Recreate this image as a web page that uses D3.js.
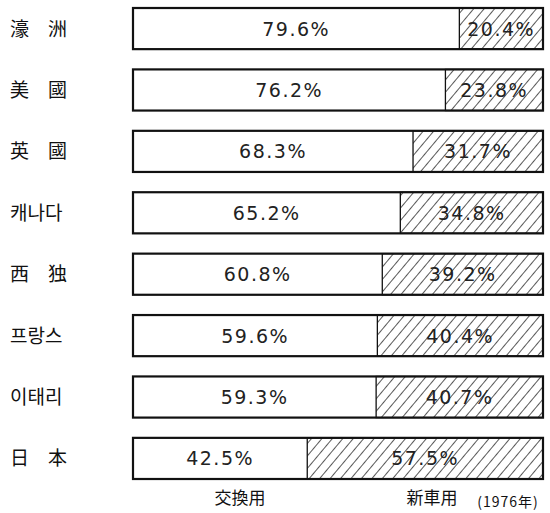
<!DOCTYPE html>
<html>
<head>
<meta charset="utf-8">
<script src="https://cdn.jsdelivr.net/npm/d3@7"></script>
<style>
body { margin: 0; background: #fff; }
</style>
</head>
<body>
<div class="chart"></div>
<script>
// Data
const countries = ['濠　洲', '美　國', '英　國', '캐나다', '西　独', '프랑스', '이태리', '日　本'];
const replaceShare = [79.6, 76.2, 68.3, 65.2, 60.8, 59.6, 59.3, 42.5];
const newCarShare = [20.4, 23.8, 31.7, 34.8, 39.2, 40.4, 40.7, 57.5];
const legendLabels = ['交換用', '新車用'];
const yearNote = '(1976年)';

const width = 550, height = 513;
const margin = { top: 8, right: 7, bottom: 34, left: 133 };
const cjkFont = '"Noto Sans CJK KR", "Noto Sans CJK JP", sans-serif';
const numFont = '"DejaVu Sans", sans-serif';

const svg = d3.select('.chart')
    .append('svg')
    .attr('width', width)
    .attr('height', height);

const defs = svg.append('defs');
const pat = defs.append('pattern')
    .attr('id', 'hatch')
    .attr('patternUnits', 'userSpaceOnUse')
    .attr('width', 8)
    .attr('height', 8)
    .attr('patternTransform', 'rotate(40)');
pat.append('line')
    .attr('x1', 0).attr('y1', 0)
    .attr('x2', 0).attr('y2', 8)
    .attr('stroke', '#111')
    .attr('stroke-width', 1.4);

// x scale: percent -> pixels
const x = d3.scaleLinear()
    .domain([0, 100])
    .range([margin.left, width - margin.right]);

// y channel
const y = d3.scaleBand()
    .domain(countries)
    .range([margin.top, height - margin.bottom])
    .paddingInner(0.33)
    .paddingOuter(0);

const rows = svg.selectAll('.row')
    .data(countries)
    .enter()
    .append('g')
    .attr('class', 'row');

// white (replacement) part
rows.append('rect')
    .attr('x', x(0))
    .attr('y', d => y(d))
    .attr('width', (d, i) => x(replaceShare[i]) - x(0))
    .attr('height', y.bandwidth())
    .attr('fill', '#fff');

// hatched (new car) part
rows.append('rect')
    .attr('x', (d, i) => x(replaceShare[i]))
    .attr('y', d => y(d))
    .attr('width', (d, i) => x(replaceShare[i] + newCarShare[i]) - x(replaceShare[i]))
    .attr('height', y.bandwidth())
    .attr('fill', 'url(#hatch)')
    .attr('stroke', '#111')
    .attr('stroke-width', 1.3);

// outline of the whole bar
rows.append('rect')
    .attr('x', x(0))
    .attr('y', d => y(d))
    .attr('width', x(100) - x(0))
    .attr('height', y.bandwidth())
    .attr('fill', 'none')
    .attr('stroke', '#111')
    .attr('stroke-width', 2.2);

// percent labels
function pctLabel(sel, xFn, vals) {
    sel.append('text')
        .attr('x', xFn)
        .attr('y', d => y(d) + y.bandwidth() / 2 + 7)
        .attr('text-anchor', 'middle')
        .attr('font-family', numFont)
        .attr('font-size', '19px')
        .attr('letter-spacing', '1.5px')
        .attr('fill', '#222')
        .text((d, i) => vals[i].toFixed(1) + '%');
}
pctLabel(rows, (d, i) => (x(0) + x(replaceShare[i])) / 2, replaceShare);
pctLabel(rows, (d, i) => (x(replaceShare[i]) + x(100)) / 2, newCarShare);

// country labels
rows.append('text')
    .attr('x', 10)
    .attr('y', d => y(d) + y.bandwidth() / 2 + 7)
    .attr('font-family', cjkFont)
    .attr('font-size', '19px')
    .attr('fill', '#111')
    .style('white-space', 'pre')
    .text(d => d);

// bottom labels
const bottomY = 504;
svg.append('text')
    .attr('x', 240)
    .attr('y', bottomY)
    .attr('text-anchor', 'middle')
    .attr('font-family', cjkFont)
    .attr('font-size', '17px')
    .attr('fill', '#111')
    .text(legendLabels[0]);

svg.append('text')
    .attr('x', 432)
    .attr('y', bottomY)
    .attr('text-anchor', 'middle')
    .attr('font-family', cjkFont)
    .attr('font-size', '17px')
    .attr('fill', '#111')
    .text(legendLabels[1]);

svg.append('text')
    .attr('x', 508)
    .attr('y', bottomY + 3)
    .attr('text-anchor', 'middle')
    .attr('font-family', '"Noto Sans CJK JP", serif')
    .attr('font-size', '14px')
    .attr('letter-spacing', '1px')
    .attr('fill', '#111')
    .text(yearNote);
</script>
</body>
</html>
